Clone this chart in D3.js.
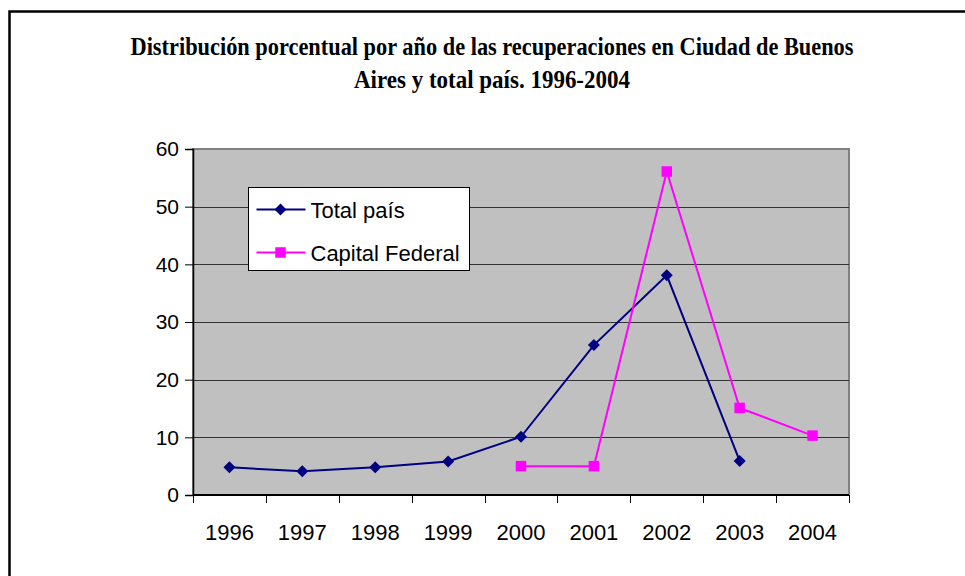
<!DOCTYPE html>
<html>
<head>
<meta charset="utf-8">
<script src="https://cdn.jsdelivr.net/npm/d3@7"></script>
<style>
  html, body { margin: 0; padding: 0; background: #fff; }
  svg { display: block; }
</style>
</head>
<body>
<div id="chart"></div>
<script>
// data
const years = ["1996", "1997", "1998", "1999", "2000", "2001", "2002", "2003", "2004"];
const totalPais = [4.8, 4.1, 4.8, 5.8, 10.1, 26.0, 38.1, 5.9, null];
const capitalFederal = [null, null, null, null, 5.0, 5.0, 56.1, 15.1, 10.3];
const yTicks = [0, 10, 20, 30, 40, 50, 60];
const titleLines = [
  "Distribución porcentual por año de las recuperaciones en Ciudad de Buenos",
  "Aires y total país. 1996-2004"
];

const config = {
  width: 965,
  height: 576,
  margin: {top: 149, left: 193, right: 116, bottom: 81},
  colors: {
    plotBg: "#c0c0c0",
    grid: "#333333",
    total: "#000080",
    capital: "#ff00ff"
  }
};

const W = config.width, H = config.height, m = config.margin;

const svg = d3.select("#chart")
  .append("svg")
  .attr("width", W)
  .attr("height", H)
  .attr("viewBox", [0, 0, W, H]);

// outer frame (runs off the right and bottom edge)
svg.append("rect")
  .attr("x", 9.5).attr("y", 11.5)
  .attr("width", W + 20).attr("height", H + 20)
  .attr("fill", "#fff")
  .attr("stroke", "#000")
  .attr("stroke-width", 2.5);

// title
svg.append("g")
  .attr("font-family", "'Liberation Serif', 'Times New Roman', serif")
  .attr("font-weight", "bold")
  .attr("font-size", 25)
  .attr("fill", "#000")
  .attr("text-anchor", "middle")
  .selectAll("text")
  .data(titleLines)
  .join("text")
  .attr("x", 492)
  .attr("y", (d, i) => 55 + i * 33)
  .attr("textLength", (d, i) => i === 0 ? 723 : 276)
  .attr("lengthAdjust", "spacingAndGlyphs")
  .text(d => d);

const x = d3.scaleBand(years, [m.left, W - m.right]);
const y = d3.scaleLinear([0, 60], [H - m.bottom, m.top]);

// plot area
svg.append("rect")
  .attr("x", m.left).attr("y", m.top)
  .attr("width", W - m.right - m.left)
  .attr("height", H - m.bottom - m.top)
  .attr("fill", config.colors.plotBg)
  .attr("stroke", "#808080")
  .attr("stroke-width", 2);

// gridlines
svg.append("g")
  .selectAll("line")
  .data(yTicks.filter(t => t > 0 && t < 60))
  .join("line")
  .attr("x1", m.left).attr("x2", W - m.right)
  .attr("y1", d => Math.round(y(d)) + 0.5)
  .attr("y2", d => Math.round(y(d)) + 0.5)
  .attr("stroke", config.colors.grid)
  .attr("stroke-width", 1);

// y axis
const yAxis = d3.axisLeft(y).tickValues(yTicks).tickSize(8).tickPadding(6);
svg.append("g")
  .attr("transform", `translate(${m.left},0)`)
  .call(yAxis)
  .call(g => g.select(".domain").attr("stroke", "#000").attr("stroke-width", 1.5))
  .call(g => g.selectAll(".tick line").attr("stroke", "#000"))
  .call(g => g.selectAll(".tick text")
    .attr("font-family", "'Liberation Sans', Arial, sans-serif")
    .attr("font-size", 21)
    .attr("fill", "#000"));

// x axis: ticks on category boundaries
const bounds = years.map(d => x(d)).concat([x(years[years.length - 1]) + x.bandwidth()]);
const xg = svg.append("g").attr("transform", `translate(0,${H - m.bottom})`);
xg.append("line")
  .attr("x1", m.left).attr("x2", W - m.right)
  .attr("stroke", "#000").attr("stroke-width", 2);
xg.selectAll("line.tk")
  .data(bounds)
  .join("line")
  .attr("class", "tk")
  .attr("x1", d => Math.round(d) + 0.5).attr("x2", d => Math.round(d) + 0.5)
  .attr("y1", 0).attr("y2", 8)
  .attr("stroke", "#000");
xg.selectAll("text")
  .data(years)
  .join("text")
  .attr("x", d => x(d) + x.bandwidth() / 2)
  .attr("y", 45)
  .attr("text-anchor", "middle")
  .attr("font-family", "'Liberation Sans', Arial, sans-serif")
  .attr("font-size", 22)
  .attr("fill", "#000")
  .text(d => d);

const cx = d => x(d) + x.bandwidth() / 2;

function drawSeries(values, color, symbol, size) {
  const pts = years.map((yr, i) => ({yr, v: values[i]})).filter(p => p.v != null);
  svg.append("path")
    .datum(pts)
    .attr("fill", "none")
    .attr("stroke", color)
    .attr("stroke-width", 2)
    .attr("d", d3.line().x(p => cx(p.yr)).y(p => y(p.v)));
  svg.append("g")
    .selectAll("path")
    .data(pts)
    .join("path")
    .attr("transform", p => `translate(${cx(p.yr)},${y(p.v)})`)
    .attr("d", d3.symbol(symbol, size))
    .attr("fill", color);
}

const diamond = {
  draw(ctx, size) {
    const r = Math.sqrt(size) / 2;
    ctx.moveTo(0, -r); ctx.lineTo(r, 0); ctx.lineTo(0, r); ctx.lineTo(-r, 0); ctx.closePath();
  }
};

drawSeries(totalPais, config.colors.total, diamond, 144);
drawSeries(capitalFederal, config.colors.capital, d3.symbolSquare, 110);

// legend
const lg = svg.append("g").attr("transform", "translate(248.5,187.5)");
lg.append("rect")
  .attr("width", 221).attr("height", 83)
  .attr("fill", "#fff").attr("stroke", "#000").attr("stroke-width", 1);
const legendItems = [
  {label: "Total país", color: config.colors.total, symbol: diamond, size: 144},
  {label: "Capital Federal", color: config.colors.capital, symbol: d3.symbolSquare, size: 110}
];
const li = lg.selectAll("g.item")
  .data(legendItems)
  .join("g")
  .attr("class", "item")
  .attr("transform", (d, i) => `translate(0,${22 + i * 43})`);
li.append("line")
  .attr("x1", 8).attr("x2", 57)
  .attr("stroke", d => d.color).attr("stroke-width", 2);
li.append("path")
  .attr("transform", "translate(32,0)")
  .attr("d", d => d3.symbol(d.symbol, d.size)())
  .attr("fill", d => d.color);
li.append("text")
  .attr("x", 62)
  .attr("y", 8)
  .attr("font-family", "'Liberation Sans', Arial, sans-serif")
  .attr("font-size", 22)
  .attr("fill", "#000")
  .text(d => d.label);
</script>
</body>
</html>
